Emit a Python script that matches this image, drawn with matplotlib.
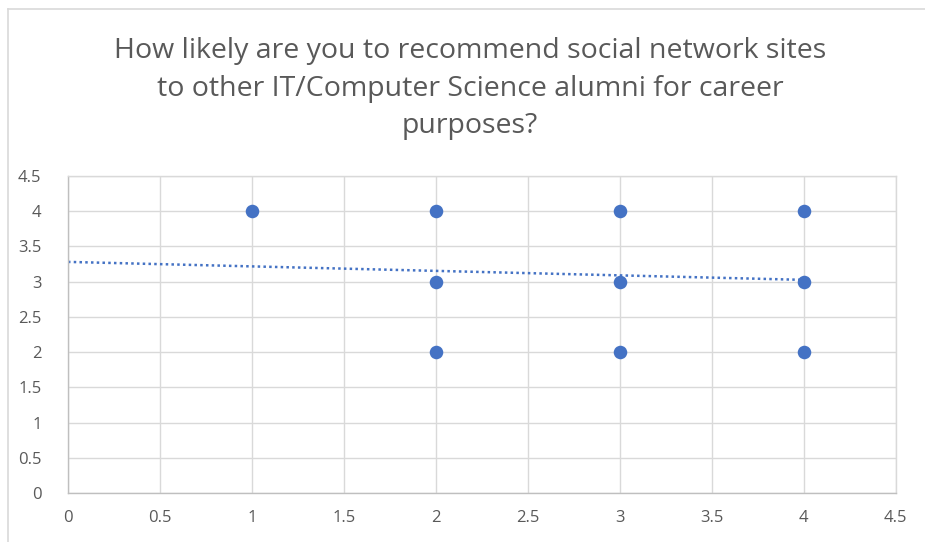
import matplotlib
matplotlib.use("Agg")
import matplotlib.pyplot as plt
from matplotlib.lines import Line2D

# Data
x_vals = [1, 2, 2, 2, 3, 3, 3, 4, 4, 4]
y_vals = [4, 4, 3, 2, 4, 3, 2, 4, 3, 2]
trend_x = [0, 4]
trend_y = [3.28, 3.025]
ticks = [0, 0.5, 1, 1.5, 2, 2.5, 3, 3.5, 4, 4.5]
tick_labels = ["0", "0.5", "1", "1.5", "2", "2.5", "3", "3.5", "4", "4.5"]
title = ("How likely are you to recommend social network sites\n"
         "to other IT/Computer Science alumni for career\n"
         "purposes?")

plt.rcParams['font.family'] = ['Open Sans', 'DejaVu Sans']
blue = "#4472C4"
txt = "#595959"

fig = plt.figure(figsize=(9.25, 5.42), dpi=100)
ax = fig.add_axes([0.0735, 0.0904, 0.895, 0.585])

ax.plot(trend_x, trend_y, linestyle=(0, (1, 1.3)), color=blue, linewidth=1.8, zorder=2)
ax.scatter(x_vals, y_vals, s=95, color=blue, zorder=3, linewidths=0)

ax.set_xlim(0, 4.5)
ax.set_ylim(0, 4.5)
ax.set_xticks(ticks)
ax.set_yticks(ticks)
ax.set_xticklabels(tick_labels)
ax.set_yticklabels(tick_labels)
ax.tick_params(length=0, labelsize=12, labelcolor=txt)
ax.tick_params(axis='x', pad=12)
ax.tick_params(axis='y', pad=19)
ax.grid(True, color="#d9d9d9", linewidth=1.0)
ax.set_axisbelow(True)
for s in ['top', 'right']:
    ax.spines[s].set_color("#d9d9d9")
    ax.spines[s].set_linewidth(1.0)
for s in ['left', 'bottom']:
    ax.spines[s].set_color("#bfbfbf")
    ax.spines[s].set_linewidth(1.0)

fig.text(0.508, 0.836, title, ha='center', va='center', fontsize=20.5,
         color=txt, linespacing=1.45)

# outer chart border (top and left visible)
fig.add_artist(Line2D([8/925, 1], [1 - 9/542, 1 - 9/542], color="#d9d9d9", linewidth=1.2))
fig.add_artist(Line2D([8/925, 8/925], [0, 1 - 9/542], color="#d9d9d9", linewidth=1.2))

fig.savefig("out.png", dpi=100)
